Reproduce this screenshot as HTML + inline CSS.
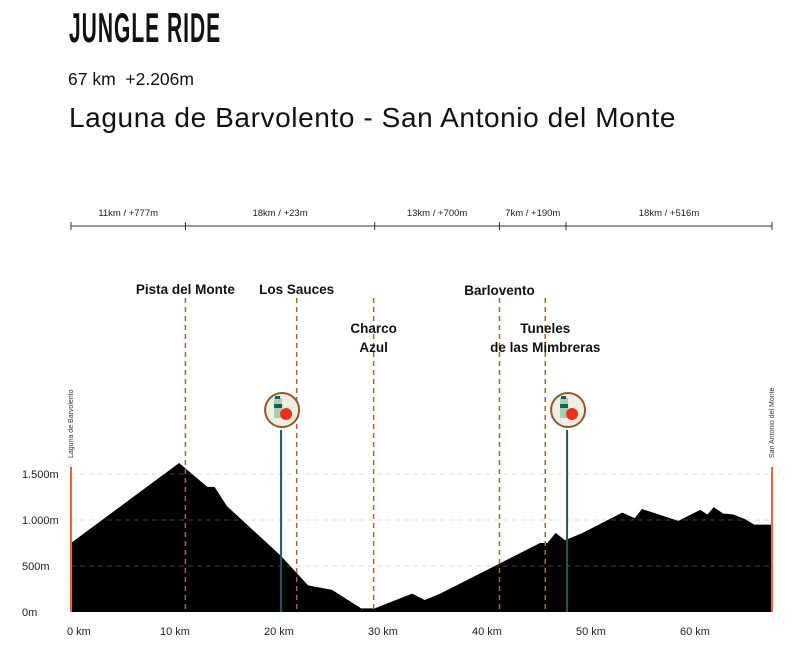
<!DOCTYPE html>
<html><head><meta charset="utf-8"><style>
html,body{margin:0;padding:0;background:#fff;width:802px;height:670px;overflow:hidden;font-family:"Liberation Sans",sans-serif;}
.t{position:absolute;white-space:nowrap;color:#111;}
</style></head><body>
<div class="t" style="left:69px;top:4px;font-family:'Liberation Sans Narrow','Liberation Sans',sans-serif;font-size:42px;font-weight:bold;transform:scaleX(0.5);transform-origin:left top;letter-spacing:2px;">JUNGLE RIDE</div>
<div class="t" style="left:68px;top:69px;font-size:17.5px;">67 km &nbsp;+2.206m</div>
<div class="t" style="left:69px;top:102px;font-size:28px;letter-spacing:0.6px;">Laguna de Barvolento - San Antonio del Monte</div>
<svg id="chart" width="802" height="670" style="position:absolute;left:0;top:0" font-family="Liberation Sans, sans-serif"></svg>
<script>
const kms=[0,10.4,13.1,13.8,15,20.1,22.8,25.1,27.9,29.2,32.8,34,35.5,45.1,45.8,46.6,47.5,49.2,53,54.2,54.9,58.4,60.5,61.2,61.8,62.7,63.7,64.8,65.7,67.4];
const elevs=[750,1620,1360,1360,1150,620,290,240,40,40,200,130,200,750,750,860,780,860,1080,1020,1120,990,1110,1060,1140,1070,1060,1010,950,950];
const xTicks=[0,10,20,30,40,50,60];
const yTicks=[0,500,1000,1500];
const yLabels=["0m","500m","1.000m","1.500m"];
const segBounds=[0,11,29.2,41.2,47.6,67.4];
const segLabels=["11km / +777m","18km / +23m","13km / +700m","7km / +190m","18km / +516m"];
const poiNames=["Pista del Monte","Los Sauces","Charco|Azul","Barlovento","Tuneles|de las Mimbreras"];
const poiKm=[11,21.7,29.1,41.2,45.6];
const poiLabelY=[294,294,333,295,333];
const foodKm=[20.2,47.7];
const X=k=>71+k*10.4, Y=e=>612-e*0.092;
const svg=document.getElementById('chart');
const NS='http://www.w3.org/2000/svg';
function mk(t,a,p){const e=document.createElementNS(NS,t);for(const k in a)e.setAttribute(k,a[k]);(p||svg).appendChild(e);return e;}
yTicks.forEach((v,i)=>{if(v>0){const g=mk('line',{x1:71,x2:772,y1:Y(v),y2:Y(v),stroke:'#cfe5e0','stroke-dasharray':'5,4'});}
const t=mk('text',{x:22,y:Y(v)+4,'font-size':11,fill:'#222'});t.textContent=yLabels[i];});
let d='M'+X(kms[0])+','+Y(0);kms.forEach((k,i)=>d+=' L'+X(k)+','+Y(elevs[i]));d+=' L'+X(kms[kms.length-1])+','+Y(0)+'Z';
const p=mk('path',{d:d,fill:'#000'});
yTicks.forEach(v=>{if(v>0){const g=mk('line',{x1:71,x2:772,y1:Y(v),y2:Y(v),stroke:'#555','stroke-dasharray':'5,4','stroke-width':0.8,'clip-path':'url(#cp)'});}});
const defs=mk('defs',{});const cp=mk('clipPath',{id:'cp'},defs);mk('path',{d:d},cp);
xTicks.forEach(v=>{const t=mk('text',{x:v==0?67:X(v),y:635,'font-size':11,fill:'#222','text-anchor':v==0?'start':'middle'});t.textContent=v+' km';});
[[0,'Laguna de Barvolento','start-marker'],[67.4,'San Antonio del Monte','end-marker']].forEach(s=>{const l=mk('line',{x1:X(s[0]),x2:X(s[0]),y1:467,y2:612,stroke:'#f0603a','stroke-width':2});
const t=mk('text',{x:0,y:0,'font-size':7,fill:'#333',transform:'translate('+(X(s[0])+2)+',458) rotate(-90)'});t.textContent=s[1];});
poiKm.forEach((k,i)=>{const l=mk('line',{x1:X(k),x2:X(k),y1:298,y2:612,stroke:'#a8672f','stroke-width':1.5,'stroke-dasharray':'5,4'});
poiNames[i].split('|').forEach((s,j)=>{const t=mk('text',{x:X(k),y:poiLabelY[i]+j*19,'font-size':13.5,'font-weight':'bold','text-anchor':'middle',fill:'#111'});t.textContent=s;});});
foodKm.forEach(k=>{const x=X(k);const l=mk('line',{x1:x,x2:x,y1:430,y2:612,stroke:'#1e5c5a','stroke-width':2});
const c=mk('circle',{cx:x+1,cy:410,r:17,fill:'#f3ece0',stroke:'#8a5a35','stroke-width':2});
mk('rect',{x:x-7,y:398,width:8,height:20,fill:'#9fd3b0'});mk('rect',{x:x-7,y:404,width:8,height:4,fill:'#1e5c5a'});mk('rect',{x:x-6,y:396,width:5,height:3,fill:'#1e5c5a'});
mk('circle',{cx:x+5,cy:414,r:6,fill:'#e8321e'});});
const sb=mk('line',{x1:X(0),x2:X(67.4),y1:226,y2:226,stroke:'#333','stroke-width':1});
segBounds.forEach(k=>mk('line',{x1:X(k),x2:X(k),y1:222,y2:230,stroke:'#333'}));
segLabels.forEach((s,i)=>{const t=mk('text',{x:(X(segBounds[i])+X(segBounds[i+1]))/2,y:216,'font-size':9.5,'text-anchor':'middle',fill:'#222'});t.textContent=s;});
</script>
</body></html>
